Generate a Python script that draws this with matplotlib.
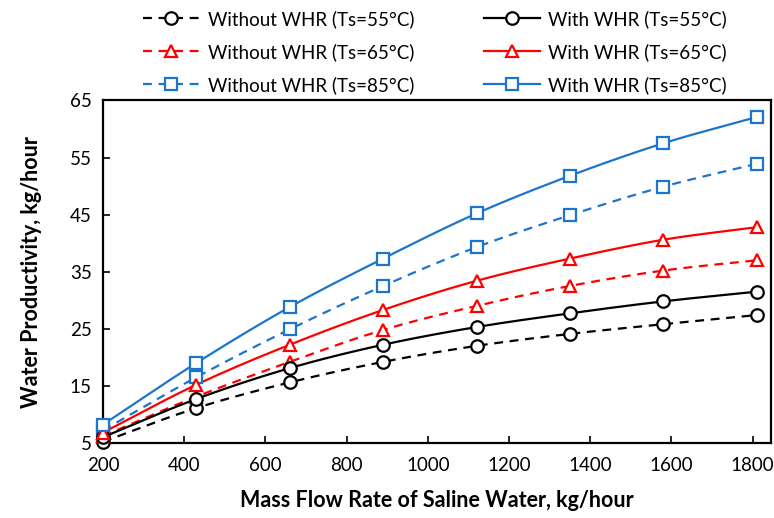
# water productivity vs mass flow rate, with and without WHR
import numpy as np
import matplotlib
matplotlib.use("Agg")
import matplotlib.pyplot as plt

# data
flow = [200, 430, 660, 890, 1120, 1350, 1580, 1810]

without_55 = [5.2, 11.1, 15.6, 19.2, 22.0, 24.1, 25.8, 27.4]
with_55 = [6.0, 12.7, 18.1, 22.2, 25.3, 27.7, 29.8, 31.5]
without_65 = [6.2, 13.1, 19.2, 24.8, 29.0, 32.5, 35.2, 37.0]
with_65 = [6.8, 15.2, 22.2, 28.3, 33.4, 37.3, 40.6, 42.8]
without_85 = [7.2, 16.5, 24.9, 32.5, 39.3, 44.9, 49.9, 53.9]
with_85 = [8.2, 19.0, 28.8, 37.3, 45.2, 51.8, 57.5, 62.1]

x_ticks = [200, 400, 600, 800, 1000, 1200, 1400, 1600, 1800]
y_ticks = [5, 15, 25, 35, 45, 55, 65]

BLACK = "#000000"
RED = "#FF0000"
BLUE = "#1B75CC"

plt.rcParams["font.family"] = ["Lato", "DejaVu Sans"]


def smooth(x, y, n=20):
    # excel-like smoothed line (catmull-rom through the points)
    x = np.asarray(x, float)
    y = np.asarray(y, float)
    px = np.concatenate([[2 * x[0] - x[1]], x, [2 * x[-1] - x[-2]]])
    py = np.concatenate([[2 * y[0] - y[1]], y, [2 * y[-1] - y[-2]]])
    xs, ys = [], []
    t = np.linspace(0, 1, n, endpoint=False)
    for i in range(1, len(px) - 2):
        for p, out in ((px, xs), (py, ys)):
            p0, p1, p2, p3 = p[i - 1], p[i], p[i + 1], p[i + 2]
            out.extend(0.5 * ((2 * p1) + (-p0 + p2) * t
                              + (2 * p0 - 5 * p1 + 4 * p2 - p3) * t ** 2
                              + (-p0 + 3 * p1 - 3 * p2 + p3) * t ** 3))
    xs.append(x[-1])
    ys.append(y[-1])
    return xs, ys


fig = plt.figure(figsize=(7.74, 5.18), dpi=100)
ax = fig.add_axes([0.133, 0.145, 0.863, 0.661])

series = [
    (without_55, BLACK, "o", True, "Without WHR (Ts=55°C)"),
    (without_65, RED, "^", True, "Without WHR (Ts=65°C)"),
    (without_85, BLUE, "s", True, "Without WHR (Ts=85°C)"),
    (with_55, BLACK, "o", False, "With WHR (Ts=55°C)"),
    (with_65, RED, "^", False, "With WHR (Ts=65°C)"),
    (with_85, BLUE, "s", False, "With WHR (Ts=85°C)"),
]

handles = []
for vals, col, mk, dashed, lab in series:
    ls = (0, (4, 3)) if dashed else "-"
    sx, sy = smooth(flow, vals)
    ax.plot(sx, sy, color=col, lw=1.6, ls=ls, zorder=2)
    ax.plot(flow, vals, ls="none", marker=mk, ms=9, mfc="white",
            mec=col, mew=1.6, zorder=3, clip_on=False)
    h, = ax.plot([], [], color=col, lw=1.6, ls=ls, marker=mk, ms=9,
                 mfc="white", mec=col, mew=1.6, label=lab)
    handles.append(h)

ax.set_xlim(200, 1845)
ax.set_ylim(5, 65)
ax.set_xticks(x_ticks)
ax.set_yticks(y_ticks)
ax.tick_params(direction="in", length=5, width=1.2, labelsize=13.5, pad=8,
               colors="black")
ax.tick_params(axis="x", pad=10)
for s in ax.spines.values():
    s.set_linewidth(1.6)

ax.set_xlabel("Mass Flow Rate of Saline Water, kg/hour", fontsize=15.5,
              fontweight="bold", labelpad=12)
ax.set_ylabel("Water Productivity, kg/hour", fontsize=15.5, fontweight="bold",
              labelpad=20)

fig.legend(handles=handles, ncol=2, loc="upper center",
           bbox_to_anchor=(0.562, 1.013), frameon=False, fontsize=13.5,
           handlelength=3.0, columnspacing=3.7, labelspacing=0.8,
           handletextpad=0.45)

fig.savefig("out.png", dpi=100)
